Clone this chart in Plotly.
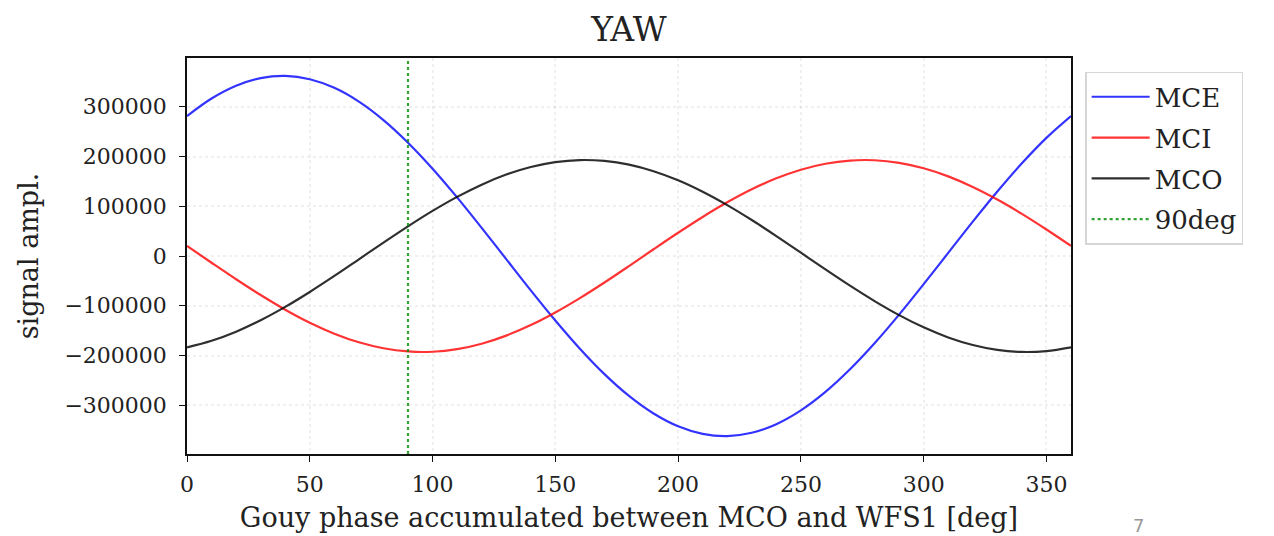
import plotly.graph_objects as go

# Gouy phase samples [deg]
phase_deg = [0, 10, 20, 30, 40, 50, 60, 70, 80, 90, 100, 110, 120, 130, 140, 150, 160, 170, 180,
             190, 200, 210, 220, 230, 240, 250, 260, 270, 280, 290, 300, 310, 320, 330, 340, 350, 360]

# Signal amplitudes per mirror
mce = [281300, 316600, 342300, 357500, 361900, 355300, 338000, 310300, 273200, 227800,
       175500, 117900, 56600, -6300, -69100, -129700, -186400, -237500, -281300,
       -316600, -342300, -357500, -361900, -355300, -338000, -310300, -273200, -227800,
       -175500, -117900, -56600, 6300, 69100, 129700, 186400, 237500, 281300]
mci = [20200, -13500, -46700, -78500, -107900, -134100, -156100, -173500, -185500, -191900,
       -192500, -187300, -176300, -160000, -138800, -113400, -84600, -53200, -20200,
       13500, 46700, 78500, 107900, 134100, 156100, 173500, 185500, 191900,
       192500, 187300, 176300, 160000, 138800, 113400, 84600, 53200, 20200]
mco = [-183600, -170400, -152100, -129100, -102300, -72300, -40100, -6700, 26900, 59600,
       90600, 118800, 143400, 163700, 178900, 188800, 192900, 191100, 183600,
       170400, 152100, 129100, 102300, 72300, 40100, 6700, -26900, -59600,
       -90600, -118800, -143400, -163700, -178900, -188800, -192900, -191100, -183600]

ref_phase = 90  # 90 deg marker

x_ticks = [0, 50, 100, 150, 200, 250, 300, 350]
y_ticks = [300000, 200000, 100000, 0, -100000, -200000, -300000]
y_tick_labels = ["300000", "200000", "100000", "0", "\u2212100000", "\u2212200000", "\u2212300000"]

y_range = [-398000, 398000]
x_range = [0, 360]

FONT = "DejaVu Serif"
TEXT = "#222"

fig = go.Figure()
series = [("MCE", mce, "rgba(0,0,255,0.8)"),
          ("MCI", mci, "rgba(255,0,0,0.8)"),
          ("MCO", mco, "rgba(0,0,0,0.82)")]
for name, vals, color in series:
    fig.add_trace(go.Scatter(x=phase_deg, y=vals, mode="lines", name=name, legendgroup=name,
                             line=dict(color=color, width=2.2, shape="spline", smoothing=1.0)))

fig.add_trace(go.Scatter(x=[ref_phase, ref_phase], y=y_range, mode="lines", name="90deg",
                         legendgroup="90deg",
                         line=dict(color="rgba(0,140,0,0.8)", width=2.2, dash="dot")))

axis_common = dict(showline=True, linecolor="#111", linewidth=1.6, mirror=True,
                   ticks="outside", ticklen=6, tickwidth=1.3, tickcolor="#111",
                   showgrid=True, gridcolor="rgba(0,0,0,0.06)", griddash="dot", gridwidth=1.5,
                   zeroline=False, automargin=False,
                   tickfont=dict(family=FONT, size=22, color=TEXT))

fig.update_xaxes(range=x_range, tickvals=x_ticks, ticklabelstandoff=4, **axis_common,
                 title=dict(text="Gouy phase accumulated between MCO and WFS1 [deg]",
                            font=dict(family=FONT, size=27, color=TEXT), standoff=12))
fig.update_yaxes(range=y_range, tickvals=y_ticks, ticktext=y_tick_labels, ticklabelstandoff=8,
                 **axis_common,
                 title=dict(text="signal ampl.", font=dict(family=FONT, size=27, color=TEXT),
                            standoff=18))

fig.update_layout(
    width=1274, height=536,
    margin=dict(l=187, r=203, t=58, b=82),
    paper_bgcolor="white", plot_bgcolor="white",
    font=dict(family=FONT, color=TEXT),
    title=dict(text="YAW", x=0.4937, xanchor="center", y=0.945, yanchor="middle",
               font=dict(family=FONT, size=33, color=TEXT)),
    legend=dict(x=1.016, xanchor="left", y=0.965, yanchor="top",
                bordercolor="#d6d6d6", borderwidth=1.5, bgcolor="white",
                font=dict(family=FONT, size=26, color=TEXT),
                itemwidth=58, tracegroupgap=4),
    showlegend=True,
)

fig.add_annotation(text="7", xref="paper", yref="paper", x=1.076, y=-0.15,
                   xanchor="center", yanchor="top", showarrow=False,
                   font=dict(family="DejaVu Sans", size=18, color="#999"))

fig.write_html("out.html")
